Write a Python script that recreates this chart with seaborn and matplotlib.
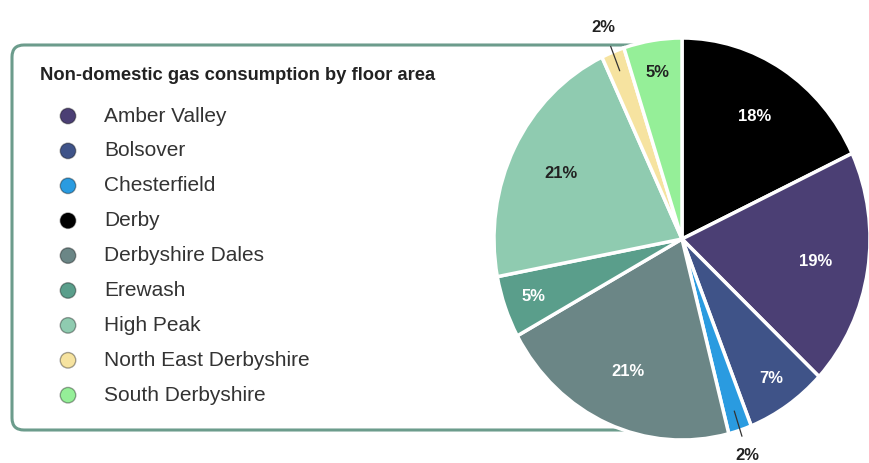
import numpy as np
import pandas as pd
import matplotlib
matplotlib.use("Agg")
import matplotlib.pyplot as plt
from matplotlib.patches import FancyBboxPatch
import seaborn as sns

# data (pie order, clockwise from 12 o'clock)
districts = ["Derby", "Amber Valley", "Bolsover", "Chesterfield", "Derbyshire Dales",
             "Erewash", "High Peak", "North East Derbyshire", "South Derbyshire"]
shares = [18, 19, 7, 2, 21, 5, 21, 2, 5]

legend_order = ["Amber Valley", "Bolsover", "Chesterfield", "Derby", "Derbyshire Dales",
                "Erewash", "High Peak", "North East Derbyshire", "South Derbyshire"]
title = "Non-domestic gas consumption by floor area"

colours = {
    "Amber Valley": "#4b3f74",
    "Bolsover": "#3f5388",
    "Chesterfield": "#2a9be0",
    "Derby": "#000000",
    "Derbyshire Dales": "#6b8686",
    "Erewash": "#5a9e8b",
    "High Peak": "#8fcbb0",
    "North East Derbyshire": "#f6e3a0",
    "South Derbyshire": "#95ef98",
}
dark_text = ["High Peak", "North East Derbyshire", "South Derbyshire", "Chesterfield"]

sns.set_theme(style="white")
plt.rcParams["font.family"] = ["Liberation Sans", "DejaVu Sans"]

W, H = 870, 463
fig = plt.figure(figsize=(W / 100, H / 100), dpi=100)
fig.patch.set_facecolor("white")

# background layer in pixel coords: legend box + legend entries
bg = fig.add_axes([0, 0, 1, 1])
bg.set_facecolor("none")
box = FancyBboxPatch((12, 45), 640, 385, boxstyle="round,pad=0,rounding_size=12",
                     fc="white", ec="#6c9c8c", lw=2.2)
bg.add_patch(box)

leg = pd.DataFrame({"name": legend_order})
leg["y"] = 116 + 34.9 * np.arange(len(leg))
leg["x"] = 68
sns.scatterplot(data=leg, x="x", y="y", hue="name", palette=colours, s=125,
                edgecolor=(0, 0, 0, 0.35), linewidth=1, legend=False, ax=bg)
for _, r in leg.iterrows():
    bg.text(104, r["y"], r["name"], va="center", ha="left", fontsize=15, color="#333333")
bg.text(40, 75, title, va="center", ha="left", fontsize=13.2, fontweight="bold", color="#222222")
bg.set_xlim(0, W)
bg.set_ylim(H, 0)
bg.axis("off")

# pie
pax = fig.add_axes([494 / W, (H - 440) / H, 376 / W, 402 / H])
pax.set_facecolor("none")
wedges, _ = pax.pie(shares, colors=[colours[d] for d in districts], startangle=90,
                    counterclock=False,
                    wedgeprops=dict(edgecolor="white", linewidth=2.5, clip_on=False))
pax.set_aspect("auto")
pax.set_xlim(-1, 1)
pax.set_ylim(-1, 1)
pax.axis("off")

for w, name, v in zip(wedges, districts, shares):
    mid = np.deg2rad((w.theta1 + w.theta2) / 2)
    col = "#222222" if name in dark_text else "white"
    if v <= 2:
        pax.annotate(f"{v}%", xy=(0.9 * np.cos(mid), 0.9 * np.sin(mid)),
                     xytext=(1.13 * np.cos(mid), 1.13 * np.sin(mid)),
                     ha="center", va="center", fontsize=12, fontweight="bold", color=col,
                     arrowprops=dict(arrowstyle="-", color="#333333", lw=0.9,
                                     shrinkA=6, shrinkB=0),
                     annotation_clip=False)
    else:
        r = 0.72 if v >= 10 else 0.84
        pax.text(r * np.cos(mid), r * np.sin(mid), f"{v}%", ha="center", va="center",
                 fontsize=12, fontweight="bold", color=col)

fig.savefig("out.png", dpi=100, facecolor="white")
